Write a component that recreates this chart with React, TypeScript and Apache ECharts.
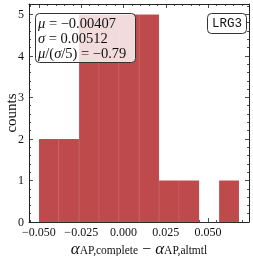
import React, { useEffect, useRef } from "react";
import * as echarts from "echarts";

// histogram bins (edges) and counts
const binEdges = [-0.05, -0.0382, -0.0263, -0.0145, -0.0027, 0.0092, 0.021, 0.0328, 0.0447, 0.0565, 0.0683];
const counts = [2, 2, 5, 5, 5, 5, 1, 1, 0, 1];

const xMin = -0.0559;
const xMax = 0.0742;
const yMin = 0;
const yMax = 5.25;

const xMajorTicks = [-0.05, -0.025, 0, 0.025, 0.05];
const yMajorTicks = [0, 1, 2, 3, 4, 5];

const statsLines = ["{i|μ} = −0.00407", "{i|σ} = 0.00512", "{i|μ}/({i|σ}/5) = −0.79"];
const tagText = "LRG3";

const xMinorTicks: number[] = [];
for (let k = -11; k <= 14; k++) {
  const v = +(k * 0.005).toFixed(3);
  if (v > xMin && v < xMax && !xMajorTicks.some((m) => Math.abs(m - v) < 1e-9)) xMinorTicks.push(v);
}
const yMinorTicks: number[] = [];
for (let k = 0; k <= 26; k++) {
  const v = +(k * 0.2).toFixed(1);
  if (v <= yMax && !yMajorTicks.some((m) => Math.abs(m - v) < 1e-9)) yMinorTicks.push(v);
}

const SERIF = "'Liberation Serif', 'DejaVu Serif', serif";
const lineColor = "#222";

export default function App() {
  const ref = useRef<HTMLDivElement>(null);
  useEffect(() => {
    if (!ref.current) return;
    const chart = echarts.init(ref.current, null, { renderer: "svg" });
    const data = counts.map((c, i) => [binEdges[i], binEdges[i + 1], c]);

    const xAx = (pos: string, major: boolean, labels: boolean) => ({
      type: "value",
      position: pos,
      min: xMin,
      max: xMax,
      axisLine: { show: major, onZero: false, lineStyle: { color: lineColor, width: 1 } },
      axisTick: {
        show: true,
        inside: true,
        length: major ? 4 : 2,
        customValues: major ? xMajorTicks : xMinorTicks,
        lineStyle: { color: lineColor, width: 0.8 },
      },
      axisLabel: labels
        ? {
            show: true,
            customValues: xMajorTicks,
            margin: 4,
            fontFamily: SERIF,
            fontSize: 12,
            color: "#111",
            formatter: (v: number) => (v < 0 ? "−" : "") + Math.abs(v).toFixed(3),
          }
        : { show: false },
      splitLine: { show: false },
    });
    const yAx = (pos: string, major: boolean, labels: boolean) => ({
      type: "value",
      position: pos,
      min: yMin,
      max: yMax,
      axisLine: { show: major, onZero: false, lineStyle: { color: lineColor, width: 1 } },
      axisTick: {
        show: true,
        inside: true,
        length: major ? 4 : 2,
        customValues: major ? yMajorTicks : yMinorTicks,
        lineStyle: { color: lineColor, width: 0.8 },
      },
      axisLabel: labels
        ? {
            show: true,
            customValues: yMajorTicks,
            margin: 5,
            fontFamily: SERIF,
            fontSize: 12,
            color: "#111",
            formatter: (v: number) => String(Math.round(v)),
          }
        : { show: false },
      splitLine: { show: false },
    });

    chart.setOption({
      animation: false,
      grid: { left: 29, top: 4, width: 220, height: 218 },
      xAxis: [xAx("bottom", true, true), xAx("bottom", false, false), xAx("top", true, false), xAx("top", false, false)],
      yAxis: [yAx("left", true, true), yAx("left", false, false), yAx("right", true, false), yAx("right", false, false)],
      title: [
        {
          text: statsLines.join("\n"),
          left: 35,
          top: 13,
          padding: [3, 9, 3, 3],
          backgroundColor: "rgba(255,255,255,0.8)",
          borderColor: "#333",
          borderWidth: 1,
          borderRadius: 4,
          textStyle: {
            fontFamily: SERIF,
            fontSize: 14.5,
            fontWeight: "normal",
            color: "#111",
            lineHeight: 14.6,
            rich: { i: { fontFamily: SERIF, fontStyle: "italic", fontSize: 14.5, lineHeight: 14.6, color: "#111" } },
          },
        },
        {
          text: tagText,
          right: 6,
          top: 13,
          padding: [4, 5, 4, 5],
          backgroundColor: "rgba(255,255,255,0.8)",
          borderColor: "#333",
          borderWidth: 1,
          borderRadius: 4,
          textStyle: {
            fontFamily: "'Liberation Mono', 'DejaVu Sans Mono', monospace",
            fontSize: 12.5,
            fontWeight: "normal",
            color: "#111",
          },
        },
      ],
      graphic: [
        {
          type: "text",
          x: 11,
          y: 113,
          rotation: Math.PI / 2,
          style: { text: "counts", font: "15px " + SERIF, fill: "#111", align: "center", verticalAlign: "middle" },
        },
        {
          type: "text",
          x: 139,
          y: 248,
          style: {
            text: "{a|α}{s|AP,complete}{m| − }{a|α}{s|AP,altmtl}",
            align: "center",
            verticalAlign: "middle",
            rich: {
              a: { fontFamily: SERIF, fontStyle: "italic", fontSize: 17, lineHeight: 15, fill: "#111" },
              m: { fontFamily: SERIF, fontSize: 16, lineHeight: 15, fill: "#111" },
              s: { fontFamily: SERIF, fontSize: 11.5, lineHeight: 15, verticalAlign: "bottom", padding: [5, 0, 0, 0], fill: "#111" },
            },
          },
        },
      ],
      series: [
        {
          type: "custom",
          xAxisIndex: 0,
          yAxisIndex: 0,
          data,
          encode: { x: [0, 1], y: 2 },
          renderItem: (params: any, api: any) => {
            const x0 = api.value(0);
            const x1 = api.value(1);
            const c = api.value(2);
            const p0 = api.coord([x0, c]);
            const p1 = api.coord([x1, 0]);
            return {
              type: "rect",
              shape: { x: p0[0], y: p0[1], width: p1[0] - p0[0], height: p1[1] - p0[1] },
              style: { fill: "#bf4a4c", stroke: "rgba(255,255,255,0.12)", lineWidth: 0.6 },
            };
          },
        },
      ],
    });
    return () => chart.dispose();
  }, []);
  return <div ref={ref} style={{ position: "fixed", left: 0, top: 0, width: 253, height: 256 }} />;
}
